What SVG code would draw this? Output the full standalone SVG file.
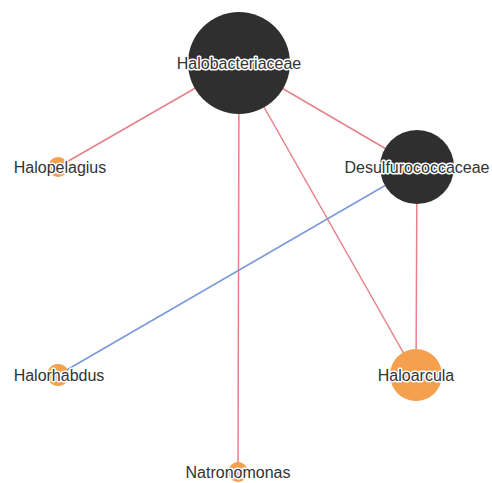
<svg xmlns="http://www.w3.org/2000/svg" width="492" height="483" viewBox="0 0 492 483">
<style>
.e{stroke-width:1.5;fill:none}
.r{stroke:#e8808a}
.b{stroke:#7a98dc}
.big{fill:#2f2f2f}
.sm{fill:#f4a04c}
text{font-family:"Liberation Sans",Arial,sans-serif;font-size:16px;fill:#333;text-anchor:middle;stroke:#fff;stroke-width:3px;paint-order:stroke;stroke-linejoin:round}
</style>
<rect width="492" height="483" fill="#fff"/>
<g id="edges">
<line class="e r" x1="239" y1="63" x2="58" y2="167"/>
<line class="e r" x1="239" y1="63" x2="238" y2="472"/>
<line class="e r" x1="239" y1="63" x2="416" y2="375"/>
<line class="e r" x1="239" y1="63" x2="417" y2="167"/>
<line class="e r" x1="417" y1="167" x2="416" y2="375"/>
<line class="e b" x1="417" y1="167" x2="58" y2="375"/>
</g>
<g id="Halobacteriaceae"><circle class="big" cx="239" cy="63" r="51"/><text x="239" y="69">Halobacteriaceae</text></g>
<g id="Desulfurococcaceae"><circle class="big" cx="417" cy="167" r="37"/><text x="417" y="173">Desulfurococcaceae</text></g>
<g id="Halopelagius"><circle class="sm" cx="58" cy="167" r="10"/><text x="60" y="173">Halopelagius</text></g>
<g id="Halorhabdus"><circle class="sm" cx="58" cy="375" r="11"/><text x="59" y="381">Halorhabdus</text></g>
<g id="Haloarcula"><circle class="sm" cx="416" cy="375" r="26"/><text x="416" y="381">Haloarcula</text></g>
<g id="Natronomonas"><circle class="sm" cx="238" cy="472" r="10"/><text x="238" y="478">Natronomonas</text></g>
</svg>
